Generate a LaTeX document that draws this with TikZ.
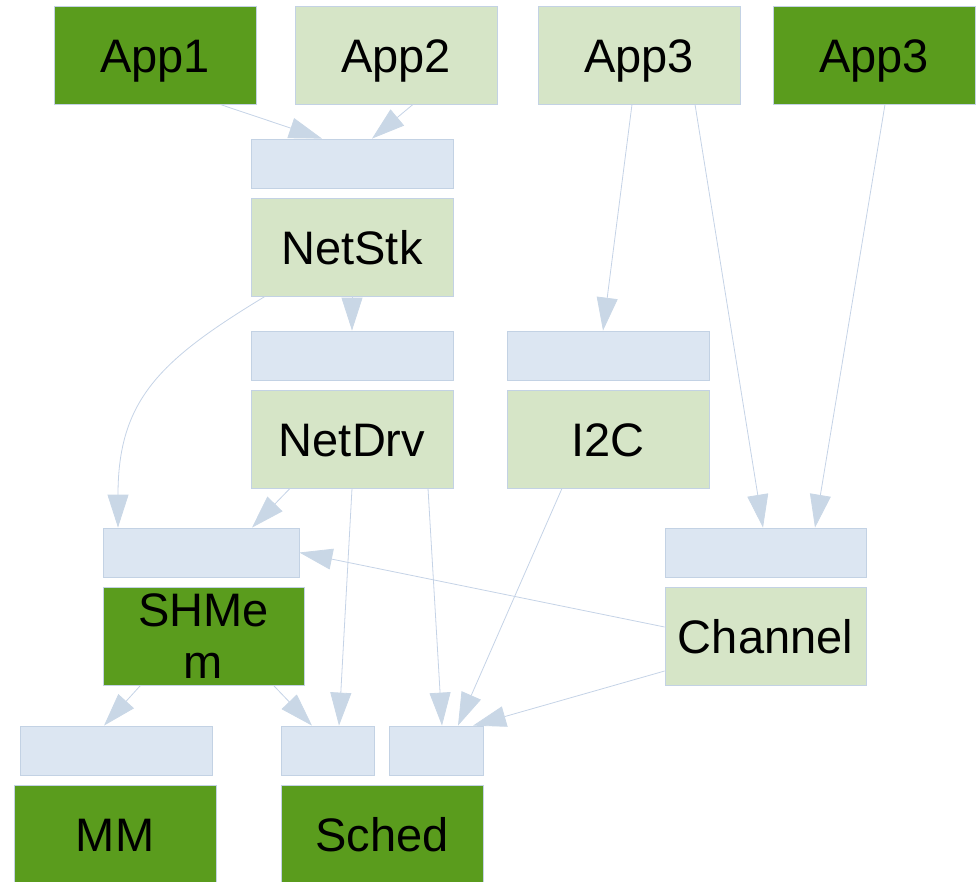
\documentclass[tikz,border=0pt]{standalone}
\usepackage{fontspec}
\setmainfont{Liberation Sans}
\usetikzlibrary{arrows.meta}

\definecolor{modDark}{HTML}{5A9C1D}
\definecolor{modLight}{HTML}{D6E5C7}
\definecolor{ifaceFill}{HTML}{DCE6F2}
\definecolor{boxEdge}{HTML}{C3D2E4}
\definecolor{linkLine}{HTML}{C5D3E6}
\definecolor{linkHead}{HTML}{C9D7E6}

\tikzset{
  box/.style={rectangle, draw=boxEdge, line width=0.8pt, inner sep=0pt,
    minimum width=202pt, minimum height=98pt, text=black,
    font=\fontsize{47pt}{51.5pt}\selectfont},
  oneline/.style={text height=34pt, text depth=0pt},
  darkmod/.style={box, fill=modDark},
  lightmod/.style={box, fill=modLight},
  iface/.style={rectangle, draw=boxEdge, line width=0.8pt, fill=ifaceFill,
    inner sep=0pt, minimum height=49pt},
  link/.style={draw=linkLine, line width=0.8pt,
    -{Triangle[length=33pt,width=21pt,fill=linkHead,color=linkHead]}},
}

\begin{document}
\begin{tikzpicture}[x=1pt, y=-1pt]
\useasboundingbox (0,0) rectangle (979,881);

% application layer
\node[darkmod, oneline]  (app1)  at (155,55) {App1};
\node[lightmod, oneline] (app2)  at (396,55) {App2};
\node[lightmod, oneline] (app3a) at (639,55) {App3};
\node[darkmod, oneline]  (app3b) at (874,55) {App3};

% network stack and drivers
\node[iface, minimum width=202pt] (ifNetStk) at (352,163.5) {};
\node[lightmod, oneline] (netstk) at (352,247) {NetStk};
\node[iface, minimum width=202pt] (ifNetDrv) at (352,355.5) {};
\node[lightmod, oneline] (netdrv) at (352,439) {NetDrv};
\node[iface, minimum width=202pt] (ifI2C) at (608,355.5) {};
\node[lightmod, oneline] (i2c) at (608,439) {I2C};

% shared memory and channel
\node[iface, minimum width=196pt] (ifSHMem) at (201,552.5) {};
\node[darkmod, minimum width=201pt, align=center] (shmem) at (203.5,636) {SHMe\\m};
\node[iface, minimum width=201pt] (ifChannel) at (765.5,552.5) {};
\node[lightmod, oneline, minimum width=201pt] (channel) at (765.5,636) {Channel};

% kernel services
\node[iface, minimum width=192pt] (ifMM) at (116,750.5) {};
\node[darkmod, oneline] (mm) at (115,834) {MM};
\node[iface, minimum width=93pt] (ifSchedA) at (327.5,750.5) {};
\node[iface, minimum width=94pt] (ifSchedB) at (436,750.5) {};
\node[darkmod, oneline] (sched) at (382,834) {Sched};

% dependencies
\draw[link] ([xshift=65pt]app1.south) -- ([xshift=-30pt]ifNetStk.north);
\draw[link] ([xshift=17pt]app2.south) -- ([xshift=20pt]ifNetStk.north);
\draw[link] ([xshift=-7pt]app3a.south) -- ([xshift=-5pt]ifI2C.north);
\draw[link] ([xshift=56pt]app3a.south) -- ([xshift=-2.5pt]ifChannel.north);
\draw[link] ([xshift=11pt]app3b.south) -- ([xshift=49.5pt]ifChannel.north);

\draw[link] (netstk.south) -- (ifNetDrv.north);
\draw[link] ([xshift=-87pt]netstk.south) .. controls (160,360) and (118,400) .. ([xshift=-83pt]ifSHMem.north);

\draw[link] ([xshift=-62pt]netdrv.south) -- ([xshift=51pt]ifSHMem.north);
\draw[link] (netdrv.south) -- ([xshift=11.5pt]ifSchedA.north);
\draw[link] ([xshift=76pt]netdrv.south) -- ([xshift=6pt]ifSchedB.north);
\draw[link] ([xshift=-46pt]i2c.south) -- ([xshift=22pt]ifSchedB.north);

\draw[link] ([yshift=9pt]channel.west) -- (ifSHMem.east);
\draw[link] ([yshift=-35pt]channel.west) -- ([xshift=37pt]ifSchedB.north);

\draw[link] ([xshift=-63pt]shmem.south) -- ([xshift=-12pt]ifMM.north);
\draw[link] ([xshift=70pt]shmem.south) -- ([xshift=-15.5pt]ifSchedA.north);
\end{tikzpicture}
\end{document}
